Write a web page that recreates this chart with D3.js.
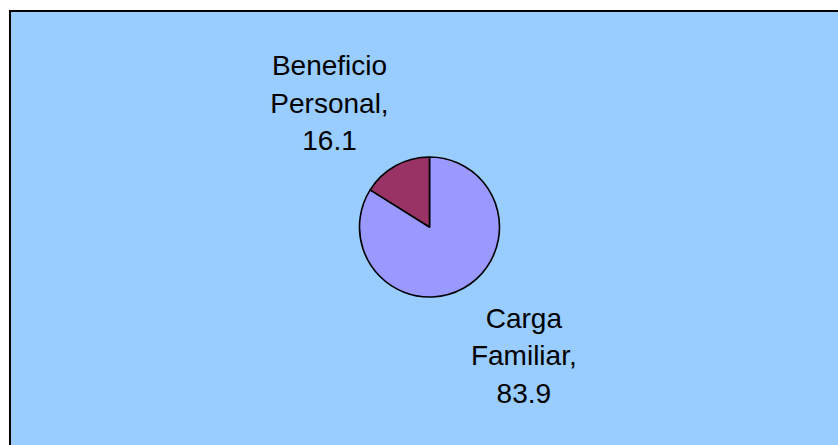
<!DOCTYPE html>
<html>
<head>
<meta charset="utf-8">
<script src="https://cdn.jsdelivr.net/npm/d3@7"></script>
<style>
  html, body { margin: 0; padding: 0; background: #ffffff; }
  svg { display: block; }
</style>
</head>
<body>
<svg id="chart" width="838" height="445"></svg>
<script>
// Data
const categories = ["Carga Familiar", "Beneficio Personal"];
const values = [83.9, 16.1];
const colors = ["#9999FF", "#993366"];

const svg = d3.select("#chart");
const W = 838, H = 445;

// Chart area background with border (extends past right/bottom edges)
svg.append("rect")
  .attr("x", 10).attr("y", 11)
  .attr("width", W + 20).attr("height", H + 20)
  .attr("fill", "#99CCFF")
  .attr("stroke", "#000000")
  .attr("stroke-width", 2);

const cx = 429.5, cy = 227, r = 70;

const pie = d3.pie().sort(null).value(d => d.value)
  .startAngle(0).endAngle(2 * Math.PI);
const data = categories.map((c, i) => ({ name: c, value: values[i], color: colors[i] }));
const arcs = pie(data);
const arc = d3.arc().innerRadius(0).outerRadius(r);

const g = svg.append("g").attr("transform", `translate(${cx},${cy})`);
g.selectAll("path.slice")
  .data(arcs)
  .enter().append("path")
  .attr("class", "slice")
  .attr("d", arc)
  .attr("fill", d => d.data.color)
  .attr("stroke", "#000000")
  .attr("stroke-width", 1.6)
  .attr("stroke-linejoin", "round");

// Labels placed outside the pie; offsets relative to slice mid-angle
const labelOffsets = [
  { angleShift: -0.127, radius: 159.5 },  // Carga Familiar
  { angleShift: -0.173, radius: 159.3 }   // Beneficio Personal
];
const lineH = 37.5;
arcs.forEach((a, i) => {
  const mid = (a.startAngle + a.endAngle) / 2 + labelOffsets[i].angleShift;
  const lr = labelOffsets[i].radius;
  const lx = Math.sin(mid) * lr;
  const ly = -Math.cos(mid) * lr;
  const parts = a.data.name.split(" ");
  const lines = [parts[0], parts.slice(1).join(" ") + ",", d3.format(".1f")(a.data.value)];
  const t = g.append("text")
    .attr("x", lx)
    .attr("y", ly)
    .attr("text-anchor", "middle")
    .attr("font-family", "Liberation Sans, Arial, sans-serif")
    .attr("font-size", 28)
    .attr("fill", "#000000");
  lines.forEach((ln, k) => {
    t.append("tspan")
      .attr("x", lx)
      .attr("y", ly + (k - 1) * lineH + 9.5)
      .text(ln);
  });
});
</script>
</body>
</html>
